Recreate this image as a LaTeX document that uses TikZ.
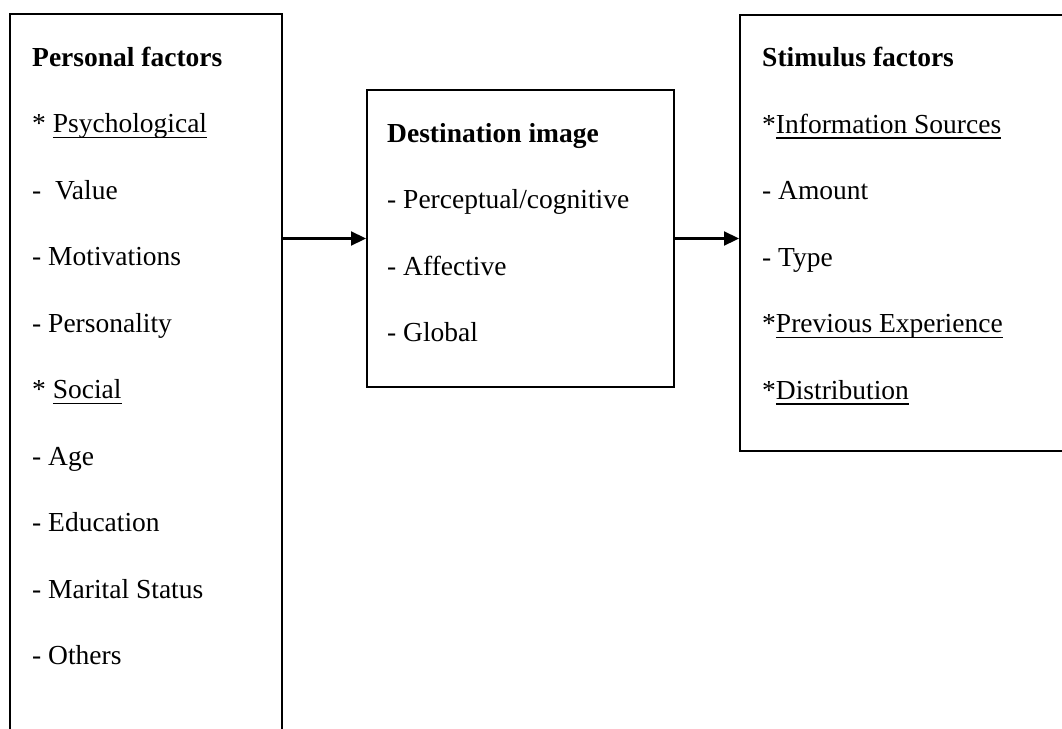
\documentclass[tikz,border=0pt]{standalone}
\usepackage{fontspec}
\setmainfont{Liberation Serif}
\usetikzlibrary{arrows.meta}

% underline a word with a rule just below the baseline
\newsavebox{\ulwordbox}
\newcommand{\ulword}[1]{\sbox\ulwordbox{#1}\rlap{\rule[-5.8pt]{\wd\ulwordbox}{1.8pt}}\usebox\ulwordbox}

\tikzset{
  panel/.style={draw, line width=2pt, inner sep=0pt},
  item/.style={anchor=base west, inner sep=0pt},
  heading/.style={item, font=\fontsize{27.5}{33}\selectfont\bfseries},
  link/.style={line width=2.2pt, -{Triangle[length=15pt,width=14pt]}}
}

\begin{document}
\begin{tikzpicture}[x=1pt, y=-1pt, font=\fontsize{27.5}{33}\selectfont]
  \useasboundingbox (0,0) rectangle (1062,728);
  \clip (0,0) rectangle (1062,728);

  % the three panels
  \node[panel, minimum width=272pt, minimum height=736pt] (personal) at (146,382) {};
  \node[panel, minimum width=307pt, minimum height=297pt] (dest) at (520.5,238.5) {};
  \node[panel, minimum width=340pt, minimum height=436pt] (stim) at (910,233) {};

  % personal factors
  \node[heading] (p0) at (32,66)    {Personal factors};
  \node[item]    (p1) at (32,132.5) {* \ulword{Psychological}};
  \node[item]    (p2) at (32,199)   {-\ \ Value};
  \node[item]    (p3) at (32,265.5) {- Motivations};
  \node[item]    (p4) at (32,332)   {- Personality};
  \node[item]    (p5) at (32,398.5) {* \ulword{Social}};
  \node[item]    (p6) at (32,465)   {- Age};
  \node[item]    (p7) at (32,531.5) {- Education};
  \node[item]    (p8) at (32,598)   {- Marital Status};
  \node[item]    (p9) at (32,664.5) {- Others};

  % destination image
  \node[heading] (d0) at (387,142)   {Destination image};
  \node[item]    (d1) at (387,208.5) {- Perceptual/cognitive};
  \node[item]    (d2) at (387,275)   {- Affective};
  \node[item]    (d3) at (387,341.5) {- Global};

  % stimulus factors
  \node[heading] (s0) at (762,66.5)  {Stimulus factors};
  \node[item]    (s1) at (762,133)   {*\ulword{Information Sources}};
  \node[item]    (s2) at (762,199.5) {- Amount};
  \node[item]    (s3) at (762,266)   {- Type};
  \node[item]    (s4) at (762,332.5) {*\ulword{Previous Experience}};
  \node[item]    (s5) at (762,399)   {*\ulword{Distribution}};

  % connectors
  \draw[link] (personal.east |- dest.west) -- (dest.west);
  \draw[link] (dest.east) -- (stim.west |- dest.east);
\end{tikzpicture}
\end{document}
